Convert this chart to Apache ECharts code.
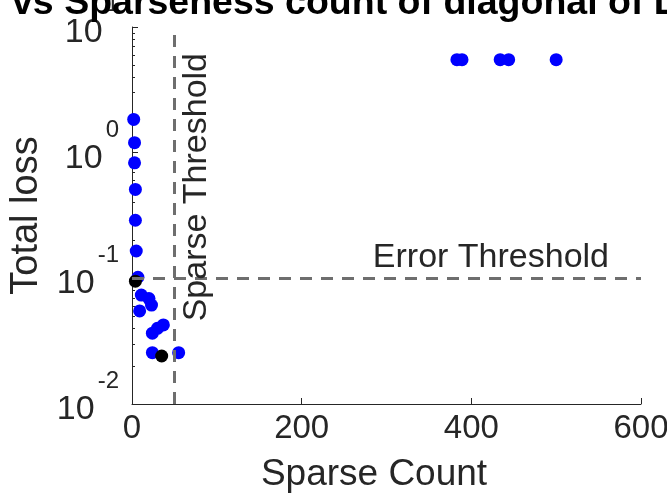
<!DOCTYPE html>
<html>
<head>
<meta charset="utf-8">
<title>Total loss vs Sparse Count</title>
<script src="https://cdn.jsdelivr.net/npm/echarts@6/dist/echarts.min.js"></script>
<style>
  html, body { margin: 0; padding: 0; background: #fff; }
  #main { width: 667px; height: 496px; }
</style>
</head>
<body>
<div id="main"></div>
<script>
// values
var blueX = [2, 3, 3, 4, 4, 5, 7, 11, 20, 23, 9, 24, 30, 37, 24, 55, 383, 389, 434, 444, 500];
var blueY = [1.84, 1.2, 0.83, 0.51, 0.29, 0.165, 0.102, 0.0736, 0.069, 0.0613, 0.055, 0.0366, 0.040, 0.0426, 0.0256, 0.0256, 5.5, 5.5, 5.5, 5.5, 5.5];
var blackX = [4, 35];
var blackY = [0.095, 0.0241];
var sparseThreshold = 50;
var errorThreshold = 0.1;
var xTicks = [0, 200, 400, 600];

var ink = '#262626';
var dash = '#6e6e6e';

function pairs(xs, ys) {
    return xs.map(function (x, i) { return [x, ys[i]]; });
}

var chart = echarts.init(document.getElementById('main'));

var option = {
    animation: false,
    textStyle: { fontFamily: 'Liberation Sans, Arial, sans-serif' },
    title: {
        text: 'vs Sparseness count of diagonal of L',
        left: 7,
        top: -20,
        textStyle: { fontSize: 37.5, fontWeight: 'bold', color: '#000' }
    },
    grid: { left: 132, right: 26, top: 27, bottom: 92, containLabel: false, outerBoundsMode: 'none' },
    xAxis: {
        type: 'value',
        min: xTicks[0],
        max: xTicks[xTicks.length - 1],
        interval: 200,
        name: 'Sparse Count',
        nameLocation: 'middle',
        nameGap: 52,
        nameTextStyle: { fontSize: 37, color: ink, padding: [0, 25, 0, 0] },
        axisLine: { lineStyle: { color: ink, width: 1 } },
        axisTick: { inside: true, length: 6, lineStyle: { color: ink } },
        axisLabel: { fontSize: 33, color: ink, margin: 8 },
        splitLine: { show: false }
    },
    yAxis: {
        type: 'log',
        logBase: 10,
        min: 0.01,
        max: 10,
        name: 'Total loss',
        nameLocation: 'middle',
        nameGap: 86,
        nameTextStyle: { fontSize: 38, color: ink },
        axisLine: { show: true, lineStyle: { color: ink, width: 1 } },
        axisTick: { show: true, inside: true, length: 6, lineStyle: { color: ink } },
        minorTick: { show: true, splitNumber: 9, length: 3, lineStyle: { color: ink } },
        axisLabel: {
            margin: 13,
            formatter: function (v) {
                return '{b|10}{e|' + Math.round(Math.log10(v)) + '}';
            },
            rich: {
                b: { fontSize: 34, color: ink, padding: [23, 0, 12, 0] },
                e: { fontSize: 24, lineHeight: 24, color: ink, verticalAlign: 'top', padding: [0, 0, 0, 3] }
            }
        },
        splitLine: { show: false }
    },
    series: [
        {
            type: 'scatter',
            data: pairs(blueX, blueY),
            symbolSize: 13,
            itemStyle: { color: '#0000ff', opacity: 1 },
            z: 2
        },
        {
            type: 'scatter',
            data: pairs(blackX, blackY),
            symbolSize: 13,
            itemStyle: { color: '#000000', opacity: 1 },
            z: 3,
            markLine: {
                silent: true,
                symbol: 'none',
                z: 5,
                lineStyle: { color: dash, width: 3, type: [12, 9] },
                data: [
                    {
                        xAxis: sparseThreshold,
                        label: {
                            show: true,
                            formatter: 'Sparse Threshold',
                            position: 'insideEndBottom',
                            distance: [26, 5],
                            fontSize: 34,
                            color: ink
                        }
                    },
                    {
                        yAxis: errorThreshold,
                        label: {
                            show: true,
                            formatter: 'Error Threshold',
                            position: 'insideEndTop',
                            distance: [32, 4],
                            fontSize: 34,
                            color: ink
                        }
                    }
                ]
            }
        }
    ]
};

chart.setOption(option);
</script>
</body>
</html>
